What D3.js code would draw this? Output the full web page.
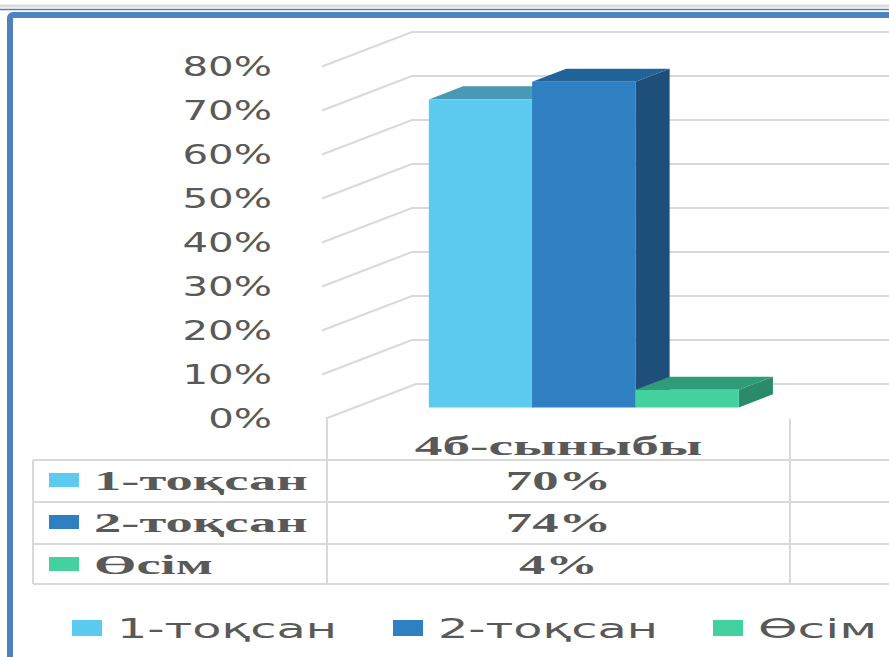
<!DOCTYPE html>
<html>
<head>
<meta charset="utf-8">
<script src="https://cdn.jsdelivr.net/npm/d3@7"></script>
<style>
  html, body { margin: 0; padding: 0; background: #fff; overflow: hidden; }
</style>
</head>
<body>
<div id="chart"></div>
<script>
// data
const categories = ["4б-сыныбы"];
const seriesNames = ["1-тоқсан", "2-тоқсан", "Өсім"];
const seriesValues = [0.70, 0.74, 0.04];
const tableLabels = ["70%", "74%", "4%"];
const yTicks = [0, 0.1, 0.2, 0.3, 0.4, 0.5, 0.6, 0.7, 0.8];

// face colours: front, top, side
const faceColors = [
  ["#5ccbef", "#4899b5", "#3f8aa6"],
  ["#2e80c2", "#22639a", "#1e4f7a"],
  ["#43d1a0", "#2f9b78", "#2b8a69"]
];

const W = 889, H = 657;
const svg = d3.select("#chart").append("svg")
  .attr("width", W)
  .attr("height", H);

const gridColor = "#d9d9d9";
const textColor = "#595959";

// 3D depth offset of the plot box
const depthX = 90, depthY = 34.5;
const zFront = 0.32, zBack = 0.70;

const y = d3.scaleLinear().domain([0, 0.8]).range([418.5, 66.5]);
const x = d3.scaleBand().domain(categories).range([327, 790])
  .paddingInner(0).paddingOuter(0.247).align(0.477);
const xs = d3.scaleBand().domain(seriesNames).range([0, x.bandwidth()]);

// project a point (px at front plane, value, depth fraction)
const proj = (px, v, z) => [px + z * depthX, y(v) - z * depthY];

// slide frame
svg.append("line").attr("x1", 0).attr("x2", W).attr("y1", 6).attr("y2", 6)
  .attr("stroke", "#dcdcdc").attr("stroke-width", 3);
svg.append("line").attr("x1", 0).attr("x2", W).attr("y1", 9.5).attr("y2", 9.5)
  .attr("stroke", "#4f81bd").attr("stroke-width", 1.5);
svg.append("rect").attr("x", 10).attr("y", 15).attr("width", W + 50).attr("height", H + 50)
  .attr("rx", 3).attr("fill", "none").attr("stroke", "#4f81bd").attr("stroke-width", 6);

// gridlines: diagonal on the side wall + horizontal on the back wall
const grid = svg.append("g");
yTicks.forEach(t => {
  const x0 = t === 0 ? 326 : 322;
  const back = proj(x0, t, 1);
  grid.append("path")
    .attr("d", `M${x0},${y(t)}L${back[0]},${back[1]}L${W},${back[1]}`)
    .attr("fill", "none")
    .attr("stroke", gridColor)
    .attr("stroke-width", 2);
});

// y tick labels (stretched wide like the original)
const tickG = svg.append("g");
yTicks.forEach(t => {
  tickG.append("g")
    .attr("transform", `translate(272,${y(t)})`)
    .append("text")
    .attr("transform", "scale(1.52,1)")
    .attr("text-anchor", "end")
    .attr("dy", "0.36em")
    .attr("font-family", "DejaVu Sans")
    .attr("font-size", 26.5)
    .attr("fill", textColor)
    .text(d3.format(".0%")(t));
});

// 3D bars
const bars = svg.append("g");
seriesNames.forEach((s, i) => {
  const v = seriesValues[i];
  const x0 = x(categories[0]) + xs(s);
  const x1 = x0 + xs.bandwidth();
  const [c1, c2, c3] = faceColors[i];
  const a = proj(x0, v, zFront), b = proj(x1, v, zFront);
  const c = proj(x1, v, zBack), d = proj(x0, v, zBack);
  const e = proj(x1, 0, zFront), f = proj(x1, 0, zBack);
  const g = proj(x0, 0, zFront);
  // side
  bars.append("path").attr("d", `M${b}L${c}L${f}L${e}Z`).attr("fill", c3);
  // top
  bars.append("path").attr("d", `M${a}L${b}L${c}L${d}Z`).attr("fill", c2);
  // front
  bars.append("path").attr("d", `M${g}L${a}L${b}L${e}Z`).attr("fill", c1);
});

// data table
const rowY = [460, 502, 544, 584];
const table = svg.append("g").attr("stroke", gridColor).attr("stroke-width", 2);
rowY.forEach(ry => {
  table.append("line").attr("x1", 33).attr("x2", W).attr("y1", ry).attr("y2", ry);
});
table.append("line").attr("x1", 33).attr("x2", 33).attr("y1", rowY[0]).attr("y2", rowY[3]);
table.append("line").attr("x1", 327).attr("x2", 327).attr("y1", y(0)).attr("y2", rowY[3]);
table.append("line").attr("x1", 790).attr("x2", 790).attr("y1", y(0)).attr("y2", rowY[3]);

const serif = "Liberation Serif";
const wideText = (parent, px, py, str, anchor, sx, family, size, weight) => {
  parent.append("g")
    .attr("transform", `translate(${px},${py})`)
    .append("text")
    .attr("transform", `scale(${sx},1)`)
    .attr("text-anchor", anchor)
    .attr("font-family", family)
    .attr("font-size", size)
    .attr("font-weight", weight)
    .attr("fill", textColor)
    .text(str);
};

const cx = (327 + 790) / 2;
wideText(svg, cx, 455, categories[0], "middle", 2.05, serif, 27, "bold");

seriesNames.forEach((s, i) => {
  const top = rowY[i];
  svg.append("rect")
    .attr("x", 49).attr("y", top + 13).attr("width", 30).attr("height", 14)
    .attr("fill", faceColors[i][0]);
  wideText(svg, 94, top + 30, s, "start", 2.02, serif, 27, "bold");
  wideText(svg, cx, top + 30, tableLabels[i], "middle", 1.95, serif, 27, "bold");
});

// bottom legend
const legendX = [72, 393, 713];
const legendSx = [1.8, 1.8, 1.9];
seriesNames.forEach((s, i) => {
  svg.append("rect")
    .attr("x", legendX[i]).attr("y", 620).attr("width", 30).attr("height", 16)
    .attr("fill", faceColors[i][0]);
  wideText(svg, legendX[i] + 45, 638, s, "start", legendSx[i], "DejaVu Sans", 26.5, "normal");
});
</script>
</body>
</html>
